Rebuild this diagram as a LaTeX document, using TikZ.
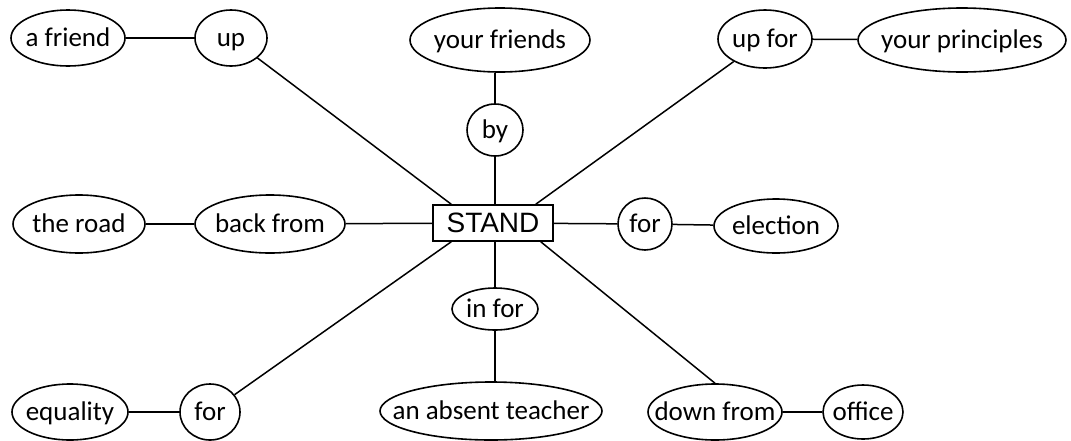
\documentclass[tikz,border=0pt]{standalone}
\usepackage{fontspec}
\setmainfont{Carlito}
\newfontfamily\boxfont{Liberation Sans}
\usetikzlibrary{shapes.geometric,calc}
\newcommand{\bt}[1]{\raisebox{-0.3em}[0pt][0pt]{\makebox[0pt]{#1}}}
\tikzset{
  bub/.style={draw=black, line width=1.6pt, ellipse, inner sep=0pt, font=\fontsize{27}{30}\selectfont},
  link/.style={draw=black, line width=1.5pt},
}
\begin{document}
\begin{tikzpicture}[x=1pt,y=-1pt]
\useasboundingbox (0,0) rectangle (1071,440);
% centre
\node[draw=black, line width=1.6pt, minimum width=120pt, minimum height=36pt, inner sep=0pt, font=\boxfont\fontsize{28}{30}\selectfont] (stand) at (493,223) {STAND};
% top row
\node[bub, minimum width=114pt, minimum height=56pt] (friend) at (68,38) {\bt{a friend}};
\node[bub, minimum width=72pt, minimum height=56pt] (up) at (231,38) {\bt{up}};
\node[bub, minimum width=180pt, minimum height=64pt] (yf) at (500,40) {\bt{your friends}};
\node[bub, minimum width=56pt, minimum height=52pt] (by) at (495,130) {\bt{by}};
\node[bub, minimum width=94pt, minimum height=58pt] (upfor) at (765,39) {\bt{up for}};
\node[bub, minimum width=208pt, minimum height=64pt] (yp) at (962,40) {\bt{your principles}};
% middle row
\node[bub, minimum width=132pt, minimum height=58pt] (road) at (79,224) {\bt{the road}};
\node[bub, minimum width=150pt, minimum height=58pt] (back) at (270,224) {\bt{back from}};
\node[bub, minimum width=54pt, minimum height=52pt] (forR) at (645,224) {\bt{for}};
\node[bub, minimum width=124pt, minimum height=54pt] (elec) at (776,226) {\bt{election}};
% lower
\node[bub, minimum width=86pt, minimum height=42pt] (infor) at (495,309) {\bt{in for}};
\node[bub, minimum width=222pt, minimum height=58pt] (absent) at (491,411) {\bt{an absent teacher}};
\node[bub, minimum width=116pt, minimum height=56pt] (equal) at (70,412) {\bt{equality}};
\node[bub, minimum width=60pt, minimum height=56pt] (forL) at (210,412) {\bt{for}};
\node[bub, minimum width=134pt, minimum height=56pt] (down) at (715,412) {\bt{down from}};
\node[bub, minimum width=80pt, minimum height=54pt] (office) at (863,412) {\bt{office}};
% anchor points on the box
\coordinate (sNW) at ($(stand.north west)+(19,0)$);
\coordinate (sNE) at ($(stand.north east)+(-18,0)$);
\coordinate (sSW) at ($(stand.south west)+(19,0)$);
\coordinate (sSE) at ($(stand.south east)+(-13,0)$);
% connectors
\draw[link] (friend) -- (up);
\draw[link] (up) -- (sNW);
\draw[link] (by |- yf.south) -- (by);
\draw[link] (by) -- (by |- stand.north);
\draw[link] (upfor) -- (yp);
\draw[link] (upfor) -- (sNE);
\draw[link] (road) -- (back);
\draw[link] (back) -- (stand);
\draw[link] (stand) -- (forR);
\draw[link] (forR) -- (elec);
\draw[link] (infor |- stand.south) -- (infor);
\draw[link] (infor) -- (infor |- absent.north);
\draw[link] (sSW) -- (forL);
\draw[link] (forL) -- (equal);
\draw[link] (sSE) -- (down.north);
\draw[link] (down) -- (office);
\end{tikzpicture}
\end{document}
